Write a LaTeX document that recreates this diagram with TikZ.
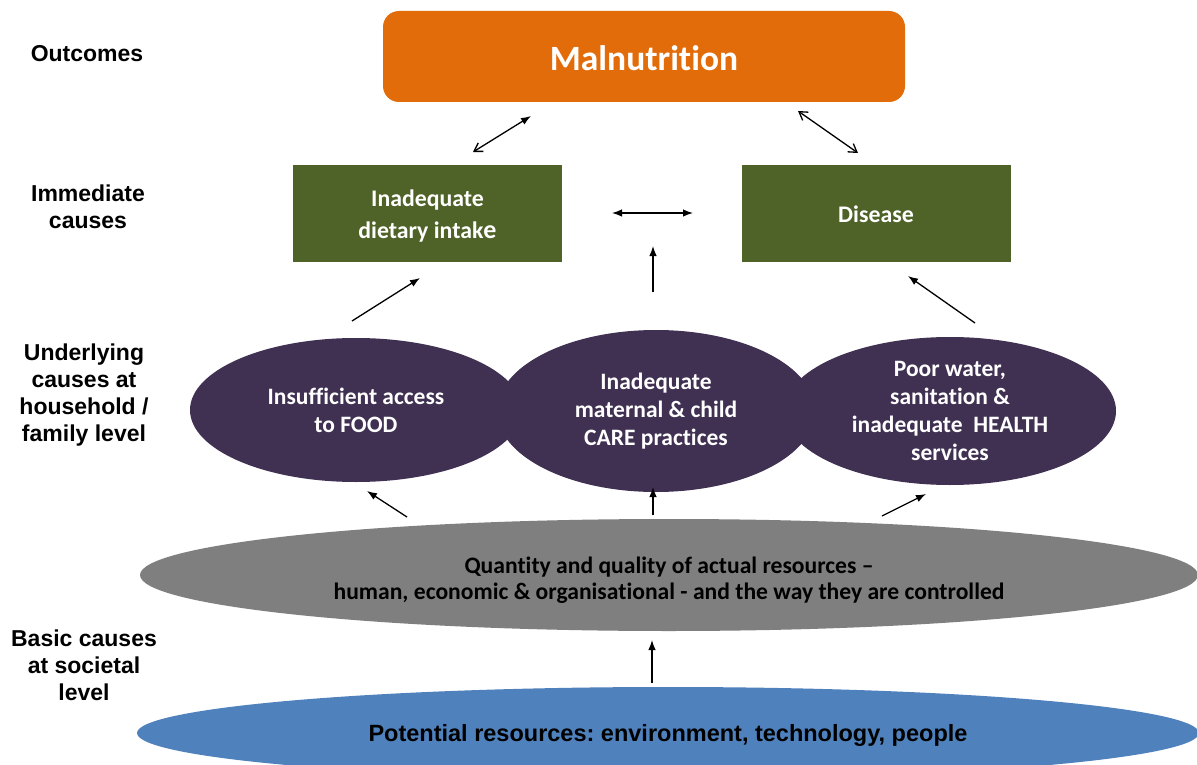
\documentclass[tikz,border=0pt]{standalone}
\usepackage{fontspec}
\setmainfont{Liberation Sans}
\newfontfamily\carlito[Ligatures={TeX,NoCommon}]{Carlito}
\usetikzlibrary{shapes.geometric,arrows.meta}
\definecolor{orangeM}{RGB}{227,108,10}
\definecolor{greenI}{RGB}{79,98,40}
\definecolor{purpleU}{RGB}{64,49,82}
\definecolor{grayB}{RGB}{127,127,127}
\definecolor{blueB}{RGB}{79,129,189}
\newcommand{\lowerby}[2]{\raisebox{-#1}[\height][\depth]{#2}}
\frenchspacing
\begin{document}
\begin{tikzpicture}[x=1pt,y=-1pt,
  lbl/.style={font=\fontsize{23}{27}\selectfont\bfseries, align=center, text=black},
  greenbox/.style={fill=greenI, minimum width=269pt, minimum height=97pt, inner sep=0pt,
     text=white, align=center, font=\carlito\fontsize{23.8}{32}\selectfont\bfseries},
  purpleell/.style={ellipse, fill=purpleU, inner sep=0pt, text=white, align=center,
     font=\carlito\fontsize{23.5}{28}\selectfont\bfseries},
  arr/.style={line width=1.3pt, -{Latex[length=10pt,width=7.5pt]}},
  darr/.style={line width=1.3pt, {Latex[length=10pt,width=7.5pt]}-{Latex[length=10pt,width=7.5pt]}},
  oarr/.style={line width=1.3pt, {Straight Barb[length=8pt,width=10pt]}-{Latex[length=10pt,width=7.5pt]}},
  ooarr/.style={line width=1.3pt, {Straight Barb[length=8pt,width=10pt]}-{Straight Barb[length=8pt,width=10pt]}}
]
\useasboundingbox (0,0) rectangle (1197,765);
\fill[white] (0,0) rectangle (1197,765);

% left labels
\node[lbl] (l1) at (87,54) {Outcomes};
\node[lbl] (l2) at (88,207) {Immediate\\causes};
\node[lbl] (l3) at (84,395) {Underlying\\causes at\\household /\\family level};
\node[lbl] (l4) at (84,665) {Basic causes\\at societal\\level};

% outcome
\node[fill=orangeM, rounded corners=16pt, minimum width=522pt, minimum height=91pt, inner sep=0pt,
      text=white, font=\carlito\fontsize{35.5}{40}\selectfont\bfseries] (mal) at (644,56.5) {\lowerby{2pt}{Malnutrition}};

% immediate causes
\node[greenbox] (diet) at (427.5,213.5) {\lowerby{3pt}{\begin{tabular}{@{}c@{}}Inadequate\\dietary intak{\fontsize{26}{32}\selectfont e}\end{tabular}}};
\node[greenbox] (dis) at (876,213.5) {\lowerby{1pt}{Disease}};

% underlying
\node[purpleell, minimum width=332pt, minimum height=144pt] (food) at (356,410) {Insufficient access\\to FOOD};
\node[purpleell, minimum width=332pt, minimum height=148pt] (health) at (950,411) {Poor water,\\sanitation \&\\inadequate~ HEALTH\\services};
\node[purpleell, minimum width=318pt, minimum height=162pt] (care) at (656,411) {Inadequate\\maternal \& child\\CARE practices};

% basic
\node[ellipse, fill=grayB, inner sep=0pt, minimum width=1058pt, minimum height=112pt,
      font=\carlito\fontsize{23.6}{26}\selectfont\bfseries] (act) at (669,575)
      {\lowerby{6pt}{\begin{tabular}{@{}c@{}}Quantity and quality of actual resources –\\human, economic \& organisational - and the way they are controlled\end{tabular}}};
\node[ellipse, fill=blueB, inner sep=0pt, minimum width=1062pt, minimum height=92pt,
      font=\fontsize{23.5}{26}\selectfont\bfseries] (pot) at (668,733)
      {\lowerby{2pt}{Potential resources: environment, technology, people}};

% arrow coordinates
\coordinate (a1s) at (473,152); \coordinate (a1e) at (531,116);
\coordinate (a2s) at (798,111); \coordinate (a2e) at (858,153);
\coordinate (h1) at (612,213); \coordinate (h2) at (693,213);
\coordinate (u1s) at (653,292); \coordinate (u1e) at (653,246);
\coordinate (u2s) at (352,321); \coordinate (u2e) at (420,278);
\coordinate (u3s) at (975,323); \coordinate (u3e) at (908,276);
\coordinate (g1s) at (407,517); \coordinate (g1e) at (367,491);
\coordinate (g2s) at (653,515); \coordinate (g2e) at (653,487);
\coordinate (g3s) at (882,516); \coordinate (g3e) at (926,494);
\coordinate (b1s) at (652,683); \coordinate (b1e) at (652,640);

\draw[oarr] (a1s) -- (a1e);
\draw[ooarr] (a2s) -- (a2e);
\draw[darr] (h1) -- (h2);
\draw[arr] (u1s) -- (u1e);
\draw[arr] (u2s) -- (u2e);
\draw[arr] (u3s) -- (u3e);
\draw[arr] (g1s) -- (g1e);
\draw[arr] (g2s) -- (g2e);
\draw[arr] (g3s) -- (g3e);
\draw[arr] (b1s) -- (b1e);
\end{tikzpicture}
\end{document}
